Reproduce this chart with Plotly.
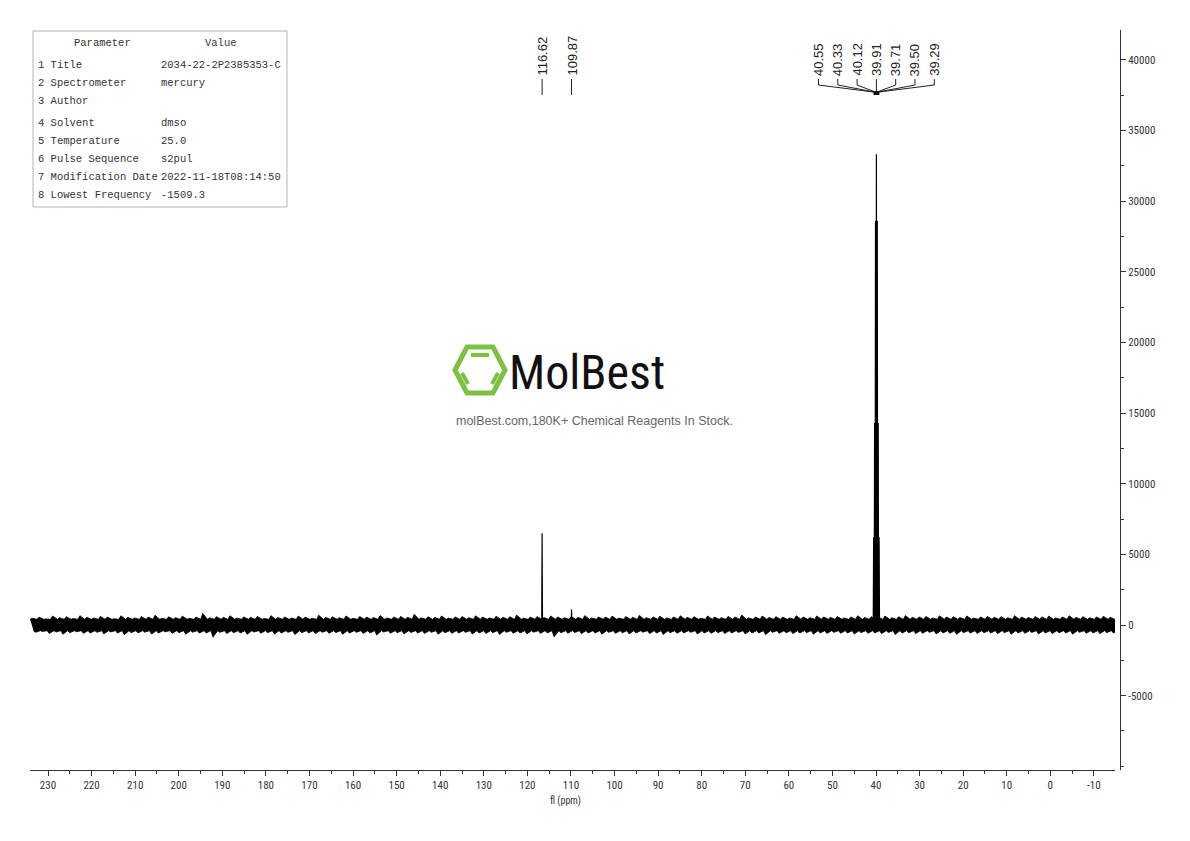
import numpy as np
import plotly.graph_objects as go

# ---------------- data ----------------
PEAK_PPM = [116.62, 109.87, 40.55, 40.33, 40.12, 39.91, 39.71, 39.50, 39.29]
PEAK_HEIGHT = [6500, 1100, 6200, 14300, 28600, 33300, 28600, 14300, 6200]
LABEL_SINGLE = ["116.62", "109.87"]
LABEL_GROUP = ["40.55", "40.33", "40.12", "39.91", "39.71", "39.50", "39.29"]

NOISE_CORE = 400
NOISE_UPPER = [
    470, 560, 430, 640, 520, 590, 460, 660, 540, 490, 610, 560, 440, 650, 540, 500, 600, 560, 690, 480,
    580, 520, 630, 470, 560, 820, 520, 590, 540, 650, 490, 570, 540, 610, 460, 660, 530, 570, 500, 630,
    560, 480, 690, 540, 580, 520, 640, 470, 600, 560, 530, 670, 500, 570, 610, 550, 760, 510, 580, 540,
    640, 490, 570, 600, 520, 650, 560, 500, 620, 550, 580, 710, 480, 560, 600, 530, 640, 570, 510, 590,
    540, 660, 500, 570, 560, 630, 490, 600, 550, 680, 520, 570, 620, 500, 570, 650, 540, 590, 480, 640,
    560, 520, 610, 570, 700, 500, 570, 630, 530, 590, 560, 490, 650, 570, 520, 640, 570, 540, 600, 500,
    570, 650, 530, 590, 560, 630, 510, 580, 670, 540, 570, 610, 500, 650, 560, 590, 530, 640, 490, 570,
    610, 550, 590, 510, 660, 560, 530, 600, 570, 630, 500, 570, 650, 540, 590, 520, 570, 620, 550, 500,
]
NOISE_LOWER = [
    -520, -460, -600, -500, -650, -550, -480, -590, -570, -520, -630, -490, -570, -690, -540, -560, -510, -640, -570, -480,
    -590, -540, -650, -510, -570, -560, -860, -520, -600, -550, -570, -650, -500, -580, -540, -630, -570, -520, -670, -550,
    -560, -610, -510, -590, -540, -660, -570, -520, -600, -560, -710, -500, -580, -550, -630, -530, -570, -600, -520, -650,
    -550, -590, -570, -520, -640, -560, -600, -540, -670, -520, -580, -570, -630, -510, -590, -560, -840, -550, -580, -530,
    -610, -560, -570, -650, -520, -590, -550, -630, -570, -510, -600, -570, -670, -540, -590, -560, -520, -640, -570, -590,
    -540, -600, -570, -530, -630, -570, -560, -690, -520, -590, -550, -610, -570, -540, -650, -560, -600, -520, -580, -570,
    -640, -540, -590, -560, -610, -530, -670, -570, -550, -600, -580, -520, -630, -560, -590, -660, -540, -570, -600, -550,
    -570, -610, -540, -650, -560, -590, -530, -630, -570, -600, -550, -570, -650, -520, -590, -560, -610, -540, -570, -600,
]
NOISE_START, NOISE_END = 234.1, -14.8

X_TICKS = list(range(230, -11, -10))
Y_TICKS = list(range(-5000, 40001, 5000))

PARAMS = ["1 Title", "2 Spectrometer", "3 Author", "4 Solvent", "5 Temperature",
          "6 Pulse Sequence", "7 Modification Date", "8 Lowest Frequency"]
VALUES = ["2034-22-2P2385353-C", "mercury", "", "dmso", "25.0", "s2pul",
          "2022-11-18T08:14:50", "-1509.3"]

# ---------------- layout helpers ----------------
OFF = 8                      # page body margin offset
W, H = 1190, 841
PL, PR, PT, PB = 30, 1120, 30, 770   # plot area in screen pixels
ML, MR, MT, MB = PL - OFF, W - (PR - OFF), PT - OFF, H - (PB - OFF)
PW, PH = PR - PL, PB - PT


def px_x(px):
    return (px - PL) / PW


def px_y(py):
    return (PB - py) / PH


PPM_PER_PX = 10 / 43.58
X_LEFT = 230 + (48 - PL) * PPM_PER_PX
X_RIGHT = X_LEFT - (1115 - PL) * PPM_PER_PX

fig = go.Figure()

# noise band: jagged polygon (spikes alternate with the solid core level)
env_ppm = np.linspace(NOISE_START, NOISE_END, len(NOISE_UPPER))
step = env_ppm[1] - env_ppm[0]
ux, uy, lx_, ly = [], [], [], []
for i, p in enumerate(env_ppm):
    ux += [p, p + 0.3 * step]
    uy += [NOISE_CORE, NOISE_UPPER[i]]
    lx_ += [p + 0.5 * step, p + 0.8 * step]
    ly += [-NOISE_CORE, NOISE_LOWER[i]]
fig.add_trace(go.Scatter(
    x=ux + lx_[::-1], y=uy + ly[::-1],
    mode="lines", fill="toself", fillcolor="#000000",
    line=dict(color="#000000", width=0.8), hoverinfo="skip", showlegend=False))

# peaks
w = 0.09
pkx, pky = [], []
for p, h in zip(PEAK_PPM, PEAK_HEIGHT):
    pkx += [p + w, p, p - w, None]
    pky += [0, h, 0, None]
fig.add_trace(go.Scatter(x=pkx, y=pky, mode="lines",
                         line=dict(color="#000000", width=1.2), showlegend=False))

shapes, annotations = [], []
LBL_FONT = dict(family="Liberation Sans, Arial, sans-serif", size=13, color="#222")

for p, t in zip(PEAK_PPM[:2], LABEL_SINGLE):
    annotations.append(dict(x=p, xref="x", y=px_y(78), yref="paper", text=t,
                            textangle=-90, showarrow=False, xanchor="center",
                            yanchor="bottom", font=LBL_FONT))
    shapes.append(dict(type="line", xref="x", yref="paper", x0=p, x1=p,
                       y0=px_y(79), y1=px_y(95), line=dict(color="#222", width=1)))

grp = PEAK_PPM[2:]
center = sum(grp) / len(grp)
spacing = 19.3 * PPM_PER_PX
n = len(grp)
for i, t in enumerate(LABEL_GROUP):
    lx = center + ((n - 1) / 2 - i) * spacing
    annotations.append(dict(x=lx, xref="x", y=px_y(78), yref="paper", text=t,
                            textangle=-90, showarrow=False, xanchor="center",
                            yanchor="bottom", font=LBL_FONT))
    shapes.append(dict(type="line", xref="x", yref="paper", x0=lx, x1=lx,
                       y0=px_y(79), y1=px_y(85), line=dict(color="#222", width=1)))
    shapes.append(dict(type="line", xref="x", yref="paper", x0=lx, x1=grp[i],
                       y0=px_y(85), y1=px_y(92), line=dict(color="#222", width=1)))
shapes.append(dict(type="rect", xref="x", yref="paper",
                   x0=center + 3 * PPM_PER_PX, x1=center - 3 * PPM_PER_PX,
                   y0=px_y(91), y1=px_y(95), fillcolor="#111", line=dict(width=0)))

# parameter table
shapes.append(dict(type="rect", xref="paper", yref="paper",
                   x0=px_x(33), x1=px_x(287), y0=px_y(31), y1=px_y(207),
                   line=dict(color="#b5b5b5", width=1), fillcolor="rgba(0,0,0,0)"))
TFONT = dict(family="Liberation Mono, DejaVu Sans Mono, monospace", size=10.5, color="#333")
annotations.append(dict(x=px_x(102), y=px_y(43), xref="paper", yref="paper", text="Parameter",
                        showarrow=False, xanchor="center", yanchor="middle", font=TFONT))
annotations.append(dict(x=px_x(221), y=px_y(43), xref="paper", yref="paper", text="Value",
                        showarrow=False, xanchor="center", yanchor="middle", font=TFONT))
ROW_Y = [65, 83, 101, 123, 141, 159, 177, 195]
for ry, pname, val in zip(ROW_Y, PARAMS, VALUES):
    annotations.append(dict(x=px_x(36), y=px_y(ry), xref="paper", yref="paper", text=pname,
                            showarrow=False, xanchor="left", yanchor="middle", font=TFONT))
    if val:
        annotations.append(dict(x=px_x(159), y=px_y(ry), xref="paper", yref="paper", text=val,
                                showarrow=False, xanchor="left", yanchor="middle", font=TFONT))

# watermark logo
NARROW = "Roboto Condensed, DejaVu Sans Condensed, Liberation Sans, sans-serif"
GREEN = "#7dc142"
hexpts = [(455, 370), (467, 347), (493, 347), (505, 370), (493, 393), (467, 393)]
path = "M " + " L ".join(f"{px_x(a)},{px_y(b)}" for a, b in hexpts) + " Z"
shapes.append(dict(type="path", xref="paper", yref="paper", path=path,
                   line=dict(color=GREEN, width=5), fillcolor="rgba(0,0,0,0)"))
for (a0, b0, a1, b1) in [(471, 355, 489, 355), (462, 373, 468, 384), (498, 373, 492, 384)]:
    shapes.append(dict(type="line", xref="paper", yref="paper",
                       x0=px_x(a0), y0=px_y(b0), x1=px_x(a1), y1=px_y(b1),
                       line=dict(color=GREEN, width=4)))
annotations.append(dict(x=px_x(587), y=px_y(372), xref="paper", yref="paper", text="MolBest",
                        showarrow=False, xanchor="center", yanchor="middle",
                        font=dict(family=NARROW, size=48, color="#111")))
annotations.append(dict(x=px_x(594), y=px_y(421), xref="paper", yref="paper",
                        text="molBest.com,180K+ Chemical Reagents In Stock.",
                        showarrow=False, xanchor="center", yanchor="middle",
                        font=dict(family="Liberation Sans, Arial, sans-serif", size=12.5, color="#666")))

annotations.append(dict(x=px_x(565), y=px_y(801), xref="paper", yref="paper", text="fl (ppm)",
                        showarrow=False, xanchor="center", yanchor="middle",
                        font=dict(family=NARROW, size=10, color="#333")))

fig.update_layout(
    width=W, height=H, autosize=False,
    margin=dict(l=ML, r=MR, t=MT, b=MB, pad=0),
    paper_bgcolor="white", plot_bgcolor="white",
    showlegend=False, shapes=shapes, annotations=annotations,
    xaxis=dict(range=[X_LEFT, X_RIGHT], domain=[0, (1115 - PL) / PW],
               tickmode="array", tickvals=X_TICKS, ticktext=[str(v) for v in X_TICKS],
               ticks="outside", ticklen=5, tickwidth=1, tickcolor="#333",
               minor=dict(tickmode="linear", tick0=0, dtick=5, ticks="outside",
                          ticklen=3, tickcolor="#333"),
               showline=True, linecolor="#333", linewidth=1,
               showgrid=False, zeroline=False,
               tickfont=dict(family=NARROW, size=11, color="#333")),
    yaxis=dict(range=[-10260, 42100], side="right", anchor="free", position=1,
               tickmode="array", tickvals=Y_TICKS, ticktext=[str(v) for v in Y_TICKS],
               ticks="outside", ticklen=5, tickwidth=1, tickcolor="#333",
               minor=dict(tickmode="linear", tick0=0, dtick=2500, ticks="outside",
                          ticklen=3, tickcolor="#333"),
               showline=True, linecolor="#333", linewidth=1,
               showgrid=False, zeroline=False,
               tickfont=dict(family=NARROW, size=11, color="#333")),
)

fig.write_html("out.html")
